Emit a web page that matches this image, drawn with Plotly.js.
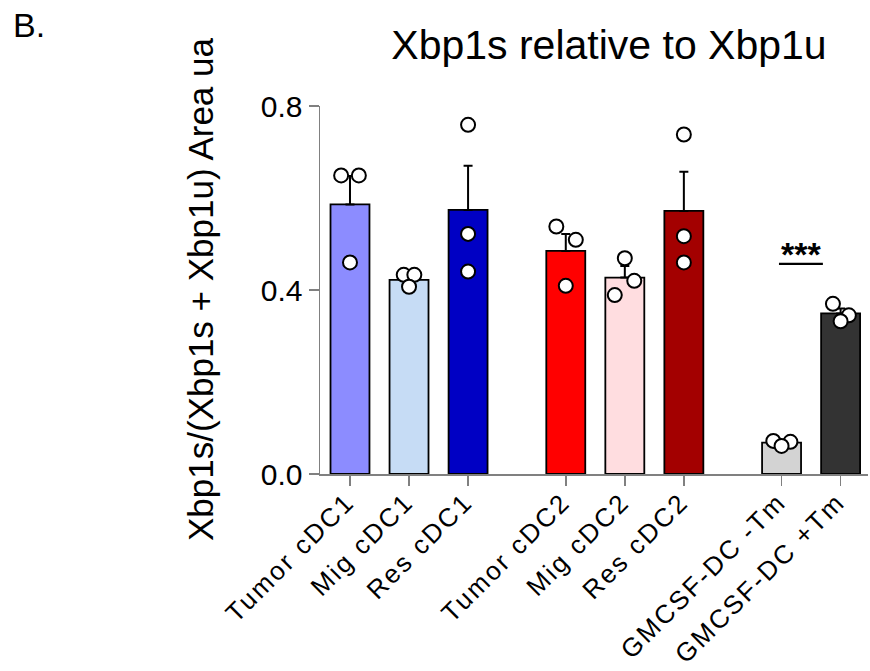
<!DOCTYPE html>
<html>
<head>
<meta charset="utf-8">
<script src="https://cdn.plot.ly/plotly-3.0.1.min.js"></script>
<style>
  html, body { margin: 0; padding: 0; background: #fff; }
  #chart { width: 870px; height: 671px; }
  .xtick text { letter-spacing: 2.3px; translate: -3px -9px; }
</style>
</head>
<body>
<div id="chart"></div>
<script>
// ---- data ----
const categories = ['Tumor cDC1', 'Mig cDC1', 'Res cDC1', 'Tumor cDC2', 'Mig cDC2', 'Res cDC2', 'GMCSF-DC -Tm', 'GMCSF-DC +Tm'];
const groupIndex = [0, 0, 0, 1, 1, 1, 2, 2];
const means = [0.586, 0.422, 0.574, 0.485, 0.427, 0.572, 0.068, 0.349];
const sems = [0.062, 0.009, 0.096, 0.037, 0.025, 0.085, 0.003, 0.011];
const replicates = [
  [0.649, 0.649, 0.460],
  [0.433, 0.433, 0.407],
  [0.759, 0.522, 0.440],
  [0.538, 0.509, 0.409],
  [0.469, 0.420, 0.389],
  [0.738, 0.517, 0.460],
  [0.072, 0.070, 0.061],
  [0.370, 0.345, 0.332]
];
const pointJitter = [
  [-0.15, 0.15, 0], [-0.09, 0.09, 0], [0, 0, 0],
  [-0.16, 0.17, 0], [0, 0.16, -0.17], [0, 0, 0],
  [-0.14, 0.15, 0], [-0.13, 0.14, 0]
];
const barColors = ['#8c8cff', '#c6dcf5', '#0000c4', '#ff0000', '#ffdde0', '#a30000', '#d3d3d3', '#333333'];
const yTickVals = [0, 0.4, 0.8];
const yTickText = ['0.0', '0.4', '0.8'];
const sigLabel = '***';

// ---- layout helpers ----
const groupGap = 0.655;
const xPos = categories.map((c, i) => i + groupIndex[i] * groupGap);

const barTrace = {
  type: 'bar',
  x: xPos,
  y: means,
  width: 0.66,
  marker: { color: barColors, line: { color: '#000', width: 1.8 } },
  error_y: {
    type: 'data', symmetric: false, array: sems, arrayminus: sems.map(() => 0),
    color: '#000', thickness: 2, width: 4.5
  },
  hoverinfo: 'skip',
  showlegend: false
};

const px = [], py = [];
replicates.forEach((vals, i) => {
  vals.forEach((v, j) => { px.push(xPos[i] + pointJitter[i][j]); py.push(v); });
});
const pointTrace = {
  type: 'scatter', mode: 'markers', x: px, y: py, cliponaxis: false,
  marker: { size: 14, color: '#fff', line: { color: '#000', width: 2 } },
  hoverinfo: 'skip', showlegend: false
};

const font = 'Liberation Sans, Arial, sans-serif';
const layout = {
  width: 870, height: 671,
  margin: { l: 320, r: 2, t: 106, b: 197, pad: 0 },
  paper_bgcolor: '#fff', plot_bgcolor: '#fff',
  font: { family: font, color: '#000' },
  title: {
    text: 'Xbp1s relative to Xbp1u',
    font: { family: font, size: 41, color: '#000' },
    x: 609 / 870, xanchor: 'center', xref: 'container',
    y: 1 - 45 / 671, yanchor: 'middle', yref: 'container'
  },
  xaxis: {
    range: [-0.508, 8.774],
    tickmode: 'array', tickvals: xPos, ticktext: categories,
    tickangle: -45,
    tickfont: { family: font, size: 26, color: '#000' },
    ticks: 'outside', ticklen: 10, tickwidth: 1.5, tickcolor: '#808080',
    showline: true, linecolor: '#808080', linewidth: 1.5,
    showgrid: false, zeroline: false, fixedrange: true, automargin: false
  },
  yaxis: {
    range: [0, 0.8],
    tickmode: 'array', tickvals: yTickVals, ticktext: yTickText,
    tickfont: { family: font, size: 30, color: '#000' },
    ticks: 'outside', ticklen: 10, tickwidth: 1.5, tickcolor: '#808080',
    showline: true, linecolor: '#808080', linewidth: 1.5,
    showgrid: false, zeroline: false, fixedrange: true, automargin: false
  },
  shapes: [
    { type: 'line', xref: 'x', yref: 'y', x0: 7.266, x1: 8.01, y0: 0.457, y1: 0.457,
      line: { color: '#000', width: 2.2 } }
  ],
  annotations: [
    { text: sigLabel, xref: 'x', yref: 'y', x: 7.64, y: 0.479, xanchor: 'center', yanchor: 'middle',
      showarrow: false, font: { family: font, size: 34, color: '#000', weight: 'bold' } },
    { text: 'Xbp1s/(Xbp1s + Xbp1u) Area ua',
      xref: 'paper', yref: 'paper', x: (200 - 320) / 548, y: (474 - 289) / 368,
      xanchor: 'center', yanchor: 'middle', textangle: -90, showarrow: false,
      font: { family: font, size: 35, color: '#000' } },
    { text: 'B.', xref: 'paper', yref: 'paper', x: (29 - 320) / 548, y: (474 - 25) / 368,
      xanchor: 'center', yanchor: 'middle', showarrow: false,
      font: { family: font, size: 34, color: '#000' } }
  ]
};

Plotly.newPlot('chart', [barTrace, pointTrace], layout, { staticPlot: true, displayModeBar: false });
</script>
</body>
</html>
